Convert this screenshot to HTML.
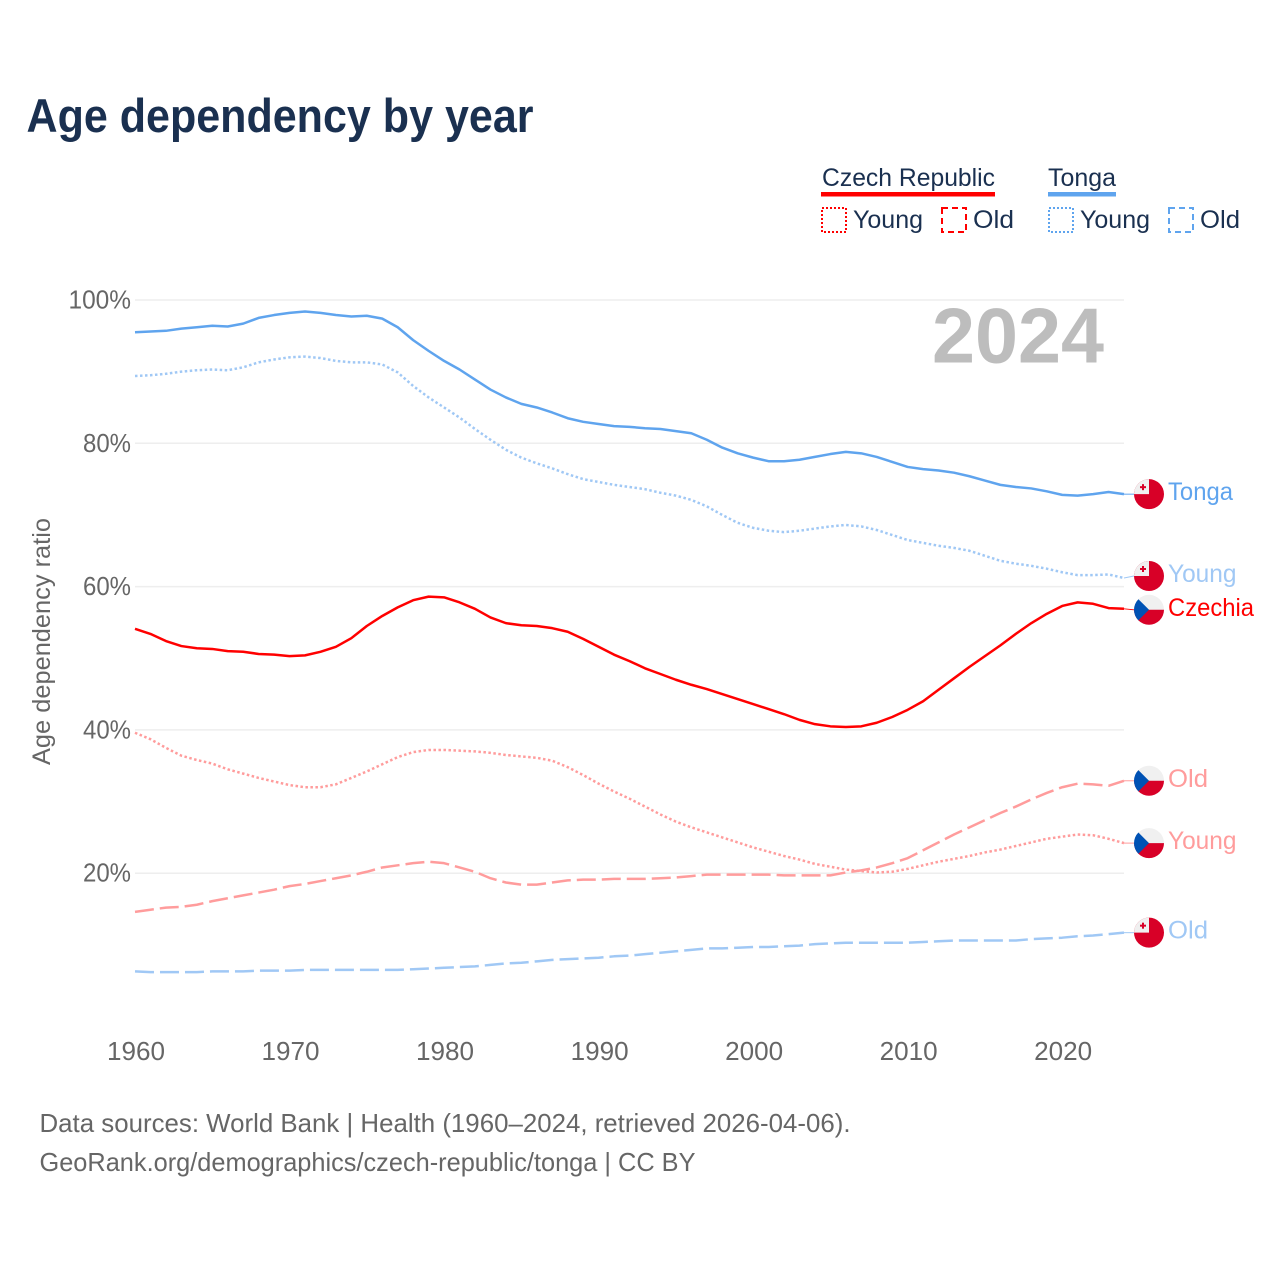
<!DOCTYPE html>
<html lang="en">
<head>
<meta charset="utf-8">
<title>Age dependency by year</title>
<style>
html,body{margin:0;padding:0;background:#fff;}
#chart{display:block;width:1280px;height:1280px;font-family:"Liberation Sans",sans-serif;}
</style>
</head>
<body>
<svg id="chart" xmlns="http://www.w3.org/2000/svg" width="1280" height="1280" viewBox="0 0 1280 1280">
  <text x="26.5" y="132" font-size="47" font-weight="700" fill="#1a3050" textLength="507" lengthAdjust="spacingAndGlyphs">Age dependency by year</text>

  <g font-size="25" fill="#1a3050">
    <text x="822" y="186" textLength="173" lengthAdjust="spacingAndGlyphs">Czech Republic</text>
    <rect x="821" y="192" width="174" height="4.5" fill="#ff0000"/>
    <rect x="822" y="208" width="24" height="24" fill="none" stroke="#ff0000" stroke-width="2" stroke-dasharray="2 2"/>
    <text x="853" y="228" textLength="70" lengthAdjust="spacingAndGlyphs">Young</text>
    <rect x="942" y="208" width="24" height="24" fill="none" stroke="#ff0000" stroke-width="2" stroke-dasharray="6 4"/>
    <text x="973" y="228" textLength="41" lengthAdjust="spacingAndGlyphs">Old</text>

    <text x="1048" y="186" textLength="68" lengthAdjust="spacingAndGlyphs">Tonga</text>
    <rect x="1048" y="192" width="68" height="4.5" fill="#5fa4ee"/>
    <rect x="1049" y="208" width="24" height="24" fill="none" stroke="#5fa4ee" stroke-width="2" stroke-dasharray="2 2"/>
    <text x="1080" y="228" textLength="70" lengthAdjust="spacingAndGlyphs">Young</text>
    <rect x="1169" y="208" width="24" height="24" fill="none" stroke="#5fa4ee" stroke-width="2" stroke-dasharray="6 4"/>
    <text x="1200" y="228" textLength="40" lengthAdjust="spacingAndGlyphs">Old</text>
  </g>

  <g id="grid"></g>
  <g id="yticks"></g>
  <g id="xticks"></g>

  <text transform="translate(50,765) rotate(-90)" font-size="25" fill="#666666" textLength="247" lengthAdjust="spacingAndGlyphs">Age dependency ratio</text>

  <text x="932" y="362.5" font-size="78" font-weight="700" fill="#bdbdbd" textLength="172" lengthAdjust="spacingAndGlyphs">2024</text>

  <g id="series"></g>
  <g id="endpoints"></g>

  <g font-size="26" fill="#666666">
    <text x="39.5" y="1132" textLength="811" lengthAdjust="spacingAndGlyphs">Data sources: World Bank | Health (1960–2024, retrieved 2026-04-06).</text>
    <text x="39.5" y="1171" textLength="656" lengthAdjust="spacingAndGlyphs">GeoRank.org/demographics/czech-republic/tonga | CC BY</text>
  </g>
</svg>

<script>
const firstYear = 1960;
const xTickYears = [1960, 1970, 1980, 1990, 2000, 2010, 2020];
const yTickValues = [100, 80, 60, 40, 20];

const tongaTotal = [
  95.5, 95.6, 95.7, 96.0, 96.2, 96.4, 96.3, 96.7, 97.5, 97.9,
  98.2, 98.4, 98.2, 97.9, 97.7, 97.8, 97.4, 96.2, 94.4, 92.9,
  91.5, 90.3, 88.9, 87.5, 86.4, 85.5, 85.0, 84.3, 83.5, 83.0,
  82.7, 82.4, 82.3, 82.1, 82.0, 81.7, 81.4, 80.5, 79.4, 78.6,
  78.0, 77.5, 77.5, 77.7, 78.1, 78.5, 78.8, 78.6, 78.1, 77.4,
  76.7, 76.4, 76.2, 75.9, 75.4, 74.8, 74.2, 73.9, 73.7, 73.3,
  72.8, 72.7, 72.9, 73.2, 72.9
];
const tongaYoung = [
  89.4, 89.5, 89.7, 90.0, 90.2, 90.3, 90.2, 90.6, 91.3, 91.7,
  92.0, 92.1, 91.9, 91.5, 91.3, 91.3, 91.0, 89.9, 88.0, 86.4,
  85.0, 83.6, 82.0, 80.5, 79.1, 78.0, 77.2, 76.5, 75.7, 75.0,
  74.6, 74.2, 73.9, 73.6, 73.1, 72.7, 72.1, 71.2, 70.0, 68.9,
  68.2, 67.8, 67.6, 67.8, 68.1, 68.4, 68.6, 68.4, 67.9, 67.2,
  66.5, 66.1, 65.7, 65.4, 65.0, 64.3, 63.6, 63.2, 62.9, 62.5,
  62.0, 61.6, 61.6, 61.7, 61.2
];
const tongaOld = [
  6.3, 6.2, 6.2, 6.2, 6.2, 6.3, 6.3, 6.3, 6.4, 6.4,
  6.4, 6.5, 6.5, 6.5, 6.5, 6.5, 6.5, 6.5, 6.6, 6.7,
  6.8, 6.9, 7.0, 7.2, 7.4, 7.5, 7.7, 7.9, 8.0, 8.1,
  8.2, 8.4, 8.5, 8.7, 8.9, 9.1, 9.3, 9.5, 9.5, 9.6,
  9.7, 9.7, 9.8, 9.9, 10.1, 10.2, 10.3, 10.3, 10.3, 10.3,
  10.3, 10.4, 10.5, 10.6, 10.6, 10.6, 10.6, 10.6, 10.8, 10.9,
  11.0, 11.2, 11.3, 11.5, 11.7
];
const czechTotal = [
  54.1, 53.4, 52.4, 51.7, 51.4, 51.3, 51.0, 50.9, 50.6, 50.5,
  50.3, 50.4, 50.9, 51.6, 52.8, 54.5, 55.9, 57.1, 58.1, 58.6,
  58.5, 57.8, 56.9, 55.7, 54.9, 54.6, 54.5, 54.2, 53.7, 52.7,
  51.6, 50.5, 49.6, 48.6, 47.8, 47.0, 46.3, 45.7, 45.0, 44.3,
  43.6, 42.9, 42.2, 41.4, 40.8, 40.5, 40.4, 40.5, 41.0, 41.8,
  42.8, 44.0, 45.6, 47.2, 48.8, 50.3, 51.8, 53.4, 54.9, 56.2,
  57.3, 57.8, 57.6, 57.0, 56.9
];
const czechYoung = [
  39.6, 38.7, 37.5, 36.4, 35.8, 35.3, 34.5, 33.9, 33.3, 32.8,
  32.3, 32.0, 32.0, 32.4, 33.3, 34.2, 35.2, 36.2, 36.9, 37.2,
  37.2, 37.1, 37.0, 36.8, 36.5, 36.3, 36.1, 35.7, 34.8, 33.7,
  32.5, 31.4, 30.4, 29.3, 28.2, 27.2, 26.4, 25.7, 25.0, 24.3,
  23.6, 23.0, 22.4, 21.9, 21.3, 20.9, 20.5, 20.3, 20.1, 20.2,
  20.6, 21.1, 21.6, 22.0, 22.4, 22.9, 23.3, 23.8, 24.3, 24.8,
  25.1, 25.4, 25.3, 24.8, 24.2
];
const czechOld = [
  14.6, 14.9, 15.2, 15.3, 15.6, 16.1, 16.5, 16.9, 17.3, 17.7,
  18.2, 18.5, 18.9, 19.3, 19.7, 20.2, 20.8, 21.1, 21.4, 21.6,
  21.4, 20.8, 20.2, 19.3, 18.7, 18.4, 18.4, 18.7, 19.0, 19.1,
  19.1, 19.2, 19.2, 19.2, 19.3, 19.4, 19.6, 19.8, 19.8, 19.8,
  19.8, 19.8, 19.7, 19.7, 19.7, 19.7, 20.1, 20.4, 20.8, 21.4,
  22.1, 23.2, 24.3, 25.4, 26.4, 27.4, 28.4, 29.3, 30.3, 31.2,
  32.0, 32.5, 32.4, 32.2, 32.9
];

const SVG_NS = 'http://www.w3.org/2000/svg';
const xOf = function (year) { return 135 + (year - firstYear) * 15.453; };
const yOf = function (value) { return 300 + (100 - value) * 7.165; };

function make(tag, attrs, parent) {
  const el = document.createElementNS(SVG_NS, tag);
  Object.keys(attrs).forEach(function (k) { el.setAttribute(k, attrs[k]); });
  parent.appendChild(el);
  return el;
}

const gridLayer = document.getElementById('grid');
const yTickLayer = document.getElementById('yticks');
const xTickLayer = document.getElementById('xticks');
const seriesLayer = document.getElementById('series');
const endLayer = document.getElementById('endpoints');

yTickValues.forEach(function (v) {
  const line = make('line', { x1: 135, x2: xOf(2024), y1: yOf(v), y2: yOf(v), stroke: '#eeeeee', 'stroke-width': 1.5 }, gridLayer);
  
  
  const label = v + '%';
  const w = (label.length - 1) * 14.5 + 19;
  const t = make('text', { x: 131, y: yOf(v) + 8.5, 'text-anchor': 'end', 'font-size': 26, fill: '#666666', textLength: w, lengthAdjust: 'spacingAndGlyphs' }, yTickLayer);
  t.textContent = label;
  
  
});

xTickYears.forEach(function (yr) {
  const t = make('text', { x: xOf(yr) + 1, y: 1060, 'text-anchor': 'middle', 'font-size': 26, fill: '#666666', textLength: 58, lengthAdjust: 'spacingAndGlyphs' }, xTickLayer);
  t.textContent = String(yr);
  
  
});

const FLAG_RADIUS = 15;

function drawTonga(g, cx, cy) {
  const r = FLAG_RADIUS;
  make('circle', { cx: cx, cy: cy, r: r, fill: '#d80027' }, g);
  make('path', { d: 'M' + (cx - r) + ' ' + cy + 'A' + r + ' ' + r + ' 0 0 1 ' + cx + ' ' + (cy - r) + 'L' + cx + ' ' + cy + 'Z', fill: '#f0f0f0' }, g);
  make('rect', { x: cx - 9, y: cy - 8, width: 6, height: 2, fill: '#d80027' }, g);
  make('rect', { x: cx - 7, y: cy - 10, width: 2, height: 6, fill: '#d80027' }, g);
}

function drawCzech(g, cx, cy) {
  const r = FLAG_RADIUS;
  const d = r * Math.SQRT1_2;
  make('circle', { cx: cx, cy: cy, r: r, fill: '#f0f0f0' }, g);
  make('path', { d: 'M' + (cx - r) + ' ' + cy + 'A' + r + ' ' + r + ' 0 0 0 ' + (cx + r) + ' ' + cy + 'Z', fill: '#d80027' }, g);
  make('path', { d: 'M' + (cx - d) + ' ' + (cy - d) + 'A' + r + ' ' + r + ' 0 0 0 ' + (cx - d) + ' ' + (cy + d) + 'L' + cx + ' ' + cy + 'Z', fill: '#0052b4' }, g);
}

function drawSeries(name, values, color, dash, width, flag, labelText, nudge) {
  const pts = values.map(function (v, i) { return xOf(firstYear + i).toFixed(2) + ',' + yOf(v).toFixed(2); }).join(' ');
  const attrs = { points: pts, fill: 'none', stroke: color, 'stroke-width': width, 'stroke-linejoin': 'round' };
  if (dash) { attrs['stroke-dasharray'] = dash; }
  const line = make('polyline', attrs, seriesLayer);
  
  

  const lastX = xOf(firstYear + values.length - 1);
  const lastY = yOf(values[values.length - 1]);
  const cy = lastY + nudge;
  const group = make('g', {}, endLayer);
  
  
  const conn = make('line', { x1: lastX, y1: lastY, x2: 1134, y2: cy, stroke: color, 'stroke-width': 1 }, group);
  
  
  const flagGroup = make('g', {}, group);
  
  
  flag(flagGroup, 1149, cy);
  const widths = { Tonga: 65, Young: 68.5, Czechia: 86, Old: 40 };
  const t = make('text', { x: 1168, y: cy + 6, 'font-size': 25, fill: color, textLength: widths[labelText], lengthAdjust: 'spacingAndGlyphs' }, group);
  t.textContent = labelText;
  
  
}

const TONGA = '#5fa4ee';
const TONGA_LIGHT = '#a0c8f5';
const CZECH = '#ff0000';
const CZECH_LIGHT = '#ff9c9c';
const DOT = '2.5 2.5';
const DASH = '19 6';

drawSeries('tonga-old', tongaOld, TONGA_LIGHT, DASH, 2.5, drawTonga, 'Old', 0);
drawSeries('tonga-young', tongaYoung, TONGA_LIGHT, DOT, 2.5, drawTonga, 'Young', -2);
drawSeries('czech-old', czechOld, CZECH_LIGHT, DASH, 2.5, drawCzech, 'Old', 0);
drawSeries('czech-young', czechYoung, CZECH_LIGHT, DOT, 2.5, drawCzech, 'Young', 0);
drawSeries('tonga-total', tongaTotal, TONGA, null, 2.5, drawTonga, 'Tonga', 0);
drawSeries('czech-total', czechTotal, CZECH, null, 2.5, drawCzech, 'Czechia', 1);
</script>
</body>
</html>
